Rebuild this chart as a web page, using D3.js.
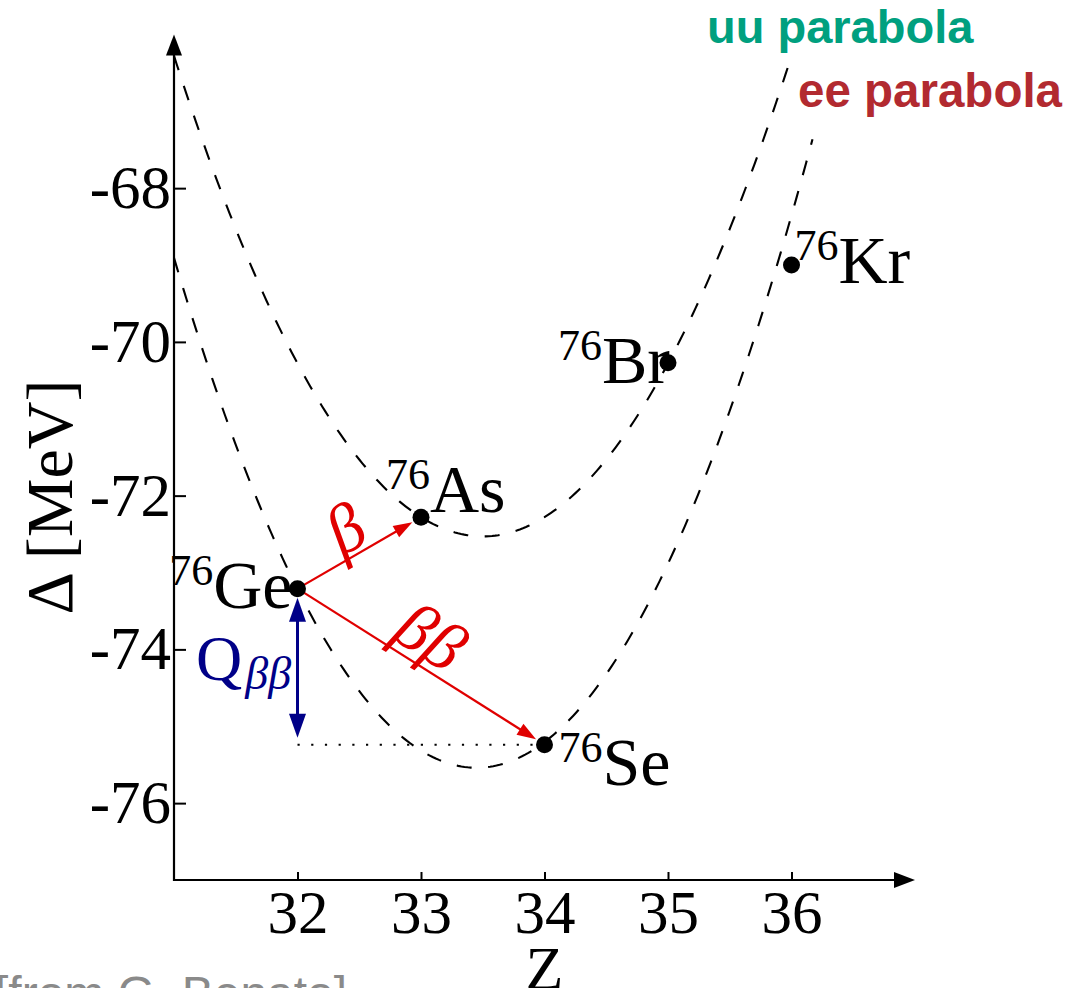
<!DOCTYPE html>
<html>
<head>
<meta charset="utf-8">
<script src="https://cdn.jsdelivr.net/npm/d3@7"></script>
<style>
  html, body { margin: 0; padding: 0; background: #fff; overflow: hidden; }
  svg { display: block; }
</style>
</head>
<body>
<svg id="chart" width="1068" height="988"></svg>
<script>
// A = 76 isobars: element, mass number, proton number Z, mass excess Δ (MeV)
const symbols = ["Ge", "As", "Se", "Br", "Kr"];
const massNumbers = ["76", "76", "76", "76", "76"];
const protonNumbers = [32, 33, 34, 35, 36];
const massExcess = [-73.21, -72.28, -75.24, -70.27, -69.00];

// axis ticks
const zTicks = [32, 33, 34, 35, 36];
const deltaTicks = [-76, -74, -72, -70, -68];

// mass parabolas  Δ(Z) = a·(Z − Z0)² + c   as [a, Z0, c] and drawn Z span
const uuParabola = [1.0, 33.5, -72.53];
const eeParabola = [1.105, 33.45, -75.54];
const uuSpan = [31, 36];
const eeSpan = [31, 36.17];

const SERIF = "'Liberation Serif', 'Times New Roman', serif";
const SANS = "'Liberation Sans', Arial, sans-serif";

const svg = d3.select("#chart");
const x = d3.scaleLinear().domain([31, 37]).range([174, 915]);
const y = d3.scaleLinear().domain([-77, -66]).range([880, 34.4]);

// ---- parabolas ----
function parabolaPoints(p, span) {
  const [a, z0, c] = p;
  return d3.range(0, 201).map(i => {
    const z = span[0] + (span[1] - span[0]) * i / 200;
    return [z, a * (z - z0) * (z - z0) + c];
  });
}
const curve = d3.line().x(d => x(d[0])).y(d => y(d[1]));
[[uuParabola, uuSpan], [eeParabola, eeSpan]].forEach(([p, s]) => {
  svg.append("path")
    .attr("d", curve(parabolaPoints(p, s)))
    .attr("fill", "none")
    .attr("stroke", "#000")
    .attr("stroke-width", 2.1)
    .attr("stroke-dasharray", "15,16.5");
});

// ---- points lookup ----
const pt = sym => {
  const i = symbols.indexOf(sym);
  return [x(protonNumbers[i]), y(massExcess[i])];
};

// ---- Q-value reference (dotted) ----
const ge = pt("Ge"), se = pt("Se"), as = pt("As");
svg.append("line")
  .attr("x1", ge[0]).attr("x2", se[0])
  .attr("y1", se[1]).attr("y2", se[1])
  .attr("stroke", "#000").attr("stroke-width", 2)
  .attr("stroke-dasharray", "2.2,11.5");

// ---- arrows ----
function arrow(from, to, shrinkEnd, color, width, headLen, headHalf, shrinkStart = 0, both = false) {
  const dx = to[0] - from[0], dy = to[1] - from[1];
  const L = Math.hypot(dx, dy);
  const ux = dx / L, uy = dy / L;
  const s = [from[0] + ux * shrinkStart, from[1] + uy * shrinkStart];
  const e = [to[0] - ux * shrinkEnd, to[1] - uy * shrinkEnd];
  const g = svg.append("g");
  g.append("line")
    .attr("x1", both ? s[0] + ux * headLen * 0.8 : s[0])
    .attr("y1", both ? s[1] + uy * headLen * 0.8 : s[1])
    .attr("x2", e[0] - ux * headLen * 0.8).attr("y2", e[1] - uy * headLen * 0.8)
    .attr("stroke", color).attr("stroke-width", width);
  const head = (tip, dirx, diry) => {
    const bx = tip[0] - dirx * headLen, by = tip[1] - diry * headLen;
    g.append("path")
      .attr("d", `M${tip[0]},${tip[1]}L${bx - diry * headHalf},${by + dirx * headHalf}L${bx + diry * headHalf},${by - dirx * headHalf}Z`)
      .attr("fill", color);
  };
  head(e, ux, uy);
  if (both) head(s, -ux, -uy);
  return { ux, uy, mid: [(from[0] + to[0]) / 2, (from[1] + to[1]) / 2] };
}

const RED = "#e00000";
const beta = arrow(ge, as, 10, RED, 2.2, 19, 6.5);
const dbeta = arrow(ge, se, 10, RED, 2.2, 19, 6.5);

// Q_ββ double arrow
const NAVY = "#000088";
arrow([ge[0], ge[1]], [ge[0], se[1]], 7, NAVY, 3, 24, 8.5, 9, true);

// ---- arrow captions ----
function caption(info, txt, along, perp, size) {
  const { ux, uy, mid } = info;
  const px = uy, py = -ux; // normal pointing above the arrow
  const sgn = py < 0 ? 1 : -1;
  const cx = mid[0] + ux * along + px * perp * sgn;
  const cy = mid[1] + uy * along + py * perp * sgn;
  const ang = Math.atan2(uy, ux) * 180 / Math.PI;
  svg.append("text")
    .attr("transform", `translate(${cx},${cy}) rotate(${ang})`)
    .attr("text-anchor", "middle")
    .attr("dominant-baseline", "central")
    .attr("font-family", SERIF)
    .attr("font-style", "italic")
    .attr("font-size", size)
    .attr("fill", RED)
    .text(txt);
}
caption(beta, "β", 0, 28, 68);
caption(dbeta, "ββ", -8, 31, 68);

// Q label
const q = svg.append("text")
  .attr("x", 196).attr("y", 680)
  .attr("font-family", SERIF)
  .attr("fill", NAVY);
q.append("tspan").attr("font-size", 64).text("Q");
q.append("tspan").attr("font-size", 46).attr("font-style", "italic")
  .attr("dx", 3).attr("dy", 9).text("ββ");

// ---- nuclide markers ----
svg.selectAll("circle.nuc")
  .data(symbols)
  .join("circle")
  .attr("class", "nuc")
  .attr("cx", (d, i) => x(protonNumbers[i]))
  .attr("cy", (d, i) => y(massExcess[i]))
  .attr("r", 8.5)
  .attr("fill", "#000");

// label placement around each marker: [dx, dy, anchor]
const placement = {
  Ge: [-5, 19, "end"],
  As: [-35, -5, "start"],
  Se: [14, 40, "start"],
  Br: [2, 20, "end"],
  Kr: [3, 18, "start"]
};
symbols.forEach((s, i) => {
  const [dx, dy, anchor] = placement[s];
  const t = svg.append("text")
    .attr("x", x(protonNumbers[i]) + dx)
    .attr("y", y(massExcess[i]) + dy)
    .attr("text-anchor", anchor)
    .attr("font-family", SERIF)
    .attr("fill", "#000");
  t.append("tspan").attr("font-size", 44).attr("dy", -23).text(massNumbers[i]);
  t.append("tspan").attr("font-size", 68).attr("dy", 23).text(s);
});

// ---- axes ----
const yAxis = d3.axisLeft(y).tickValues(deltaTicks).tickSize(-12).tickPadding(3)
  .tickFormat(d => String(d));
const xAxis = d3.axisBottom(x).tickValues(zTicks).tickSize(-8).tickPadding(12)
  .tickFormat(d => String(d));

const gy = svg.append("g").attr("transform", `translate(${x(31)},0)`).call(yAxis);
const gx = svg.append("g").attr("transform", `translate(0,${y(-77)})`).call(xAxis);
[gx, gy].forEach(g => {
  g.select(".domain").remove();
  g.selectAll(".tick line").attr("stroke", "#000").attr("stroke-width", 2);
  g.selectAll(".tick text").attr("font-family", SERIF).attr("font-size", 61).attr("fill", "#000");
});
gy.selectAll(".tick text").attr("dy", "0.32em");
gx.selectAll(".tick text").attr("dy", "0.68em");

// axis lines with arrow heads
svg.append("line").attr("x1", x(31)).attr("x2", x(31)).attr("y1", y(-77) + 1).attr("y2", y(-66) + 18)
  .attr("stroke", "#000").attr("stroke-width", 2.2);
svg.append("path")
  .attr("d", `M${x(31)},${y(-66)}L${x(31) - 8},${y(-66) + 21}L${x(31) + 8},${y(-66) + 21}Z`)
  .attr("fill", "#000");
svg.append("line").attr("x1", x(31) - 1).attr("x2", x(37) - 18).attr("y1", y(-77)).attr("y2", y(-77))
  .attr("stroke", "#000").attr("stroke-width", 2.2);
svg.append("path")
  .attr("d", `M${x(37)},${y(-77)}L${x(37) - 21},${y(-77) - 8}L${x(37) - 21},${y(-77) + 8}Z`)
  .attr("fill", "#000");

// axis titles
svg.append("text")
  .attr("x", (x(31) + x(37)) / 2).attr("y", 989)
  .attr("text-anchor", "middle")
  .attr("font-family", SERIF).attr("font-size", 62)
  .text("Z");
svg.append("text")
  .attr("transform", `translate(72,497) rotate(-90)`)
  .attr("text-anchor", "middle")
  .attr("font-family", SERIF).attr("font-size", 66)
  .text("Δ [MeV]");

// parabola names
svg.append("text")
  .attr("x", 707).attr("y", 43)
  .attr("font-family", SANS).attr("font-weight", "bold").attr("font-size", 47)
  .attr("fill", "#00a07f")
  .text("uu parabola");
svg.append("text")
  .attr("x", 798).attr("y", 107)
  .attr("font-family", SANS).attr("font-weight", "bold").attr("font-size", 47.5)
  .attr("fill", "#b22a30")
  .text("ee parabola");

// source note
svg.append("text")
  .attr("x", -5).attr("y", 1010)
  .attr("font-family", SANS).attr("font-size", 48)
  .attr("fill", "#8a8a8a")
  .text("[from G. Benato]");
</script>
</body>
</html>
